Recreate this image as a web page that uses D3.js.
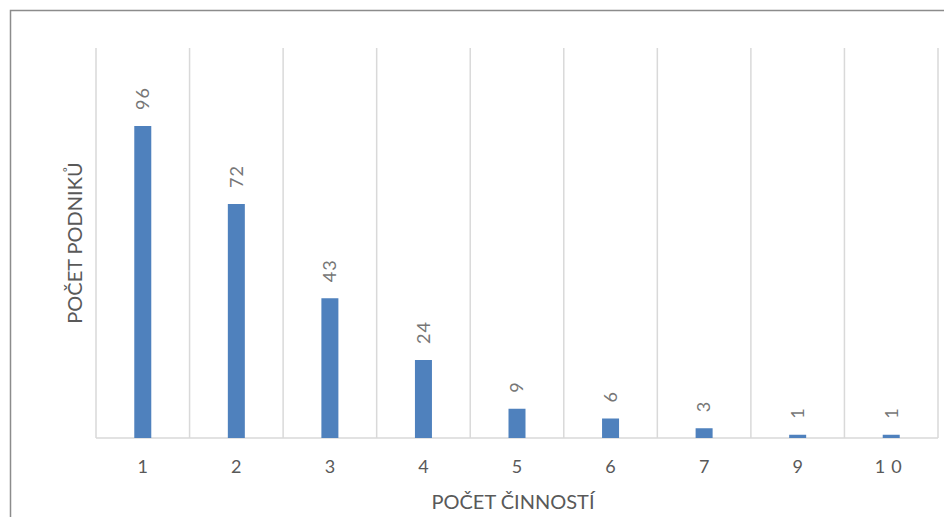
<!DOCTYPE html>
<html>
<head>
<meta charset="utf-8">
<script src="https://cdn.jsdelivr.net/npm/d3@7"></script>
<style>
  body { margin: 0; background: #fff; }
  svg text { font-family: Lato, "Open Sans", sans-serif; fill: #595959; }
</style>
</head>
<body>
<div id="chart"></div>
<script>
const categories = ["1", "2", "3", "4", "5", "6", "7", "9", "10"];
const values = [96, 72, 43, 24, 9, 6, 3, 1, 1];
const xTitle = "POČET ČINNOSTÍ";
const yTitle = "POČET PODNIKŮ";

const W = 944, H = 517;
const margin = { top: 48, right: 6, bottom: 79, left: 96 };
const width = W - margin.left - margin.right;
const height = H - margin.top - margin.bottom;

const svg = d3.select("#chart").append("svg")
    .attr("width", W)
    .attr("height", H);

// chart frame
svg.append("rect")
    .attr("x", 10.5).attr("y", 10.5)
    .attr("width", W + 20).attr("height", H + 20)
    .attr("fill", "none")
    .attr("stroke", "#8c8c8c")
    .attr("stroke-width", 1.5);

const g = svg.append("g")
    .attr("transform", `translate(${margin.left},${margin.top})`);

const x = d3.scaleBand().domain(categories).range([0, width]);
const y = d3.scaleLinear().domain([0, 120]).range([height, 0]);

// vertical gridlines at category boundaries
const bounds = categories.map(c => x(c)).concat([width]);
g.selectAll(".grid")
    .data(bounds)
    .enter().append("line")
    .attr("class", "grid")
    .attr("x1", d => d).attr("x2", d => d)
    .attr("y1", 0).attr("y2", height)
    .attr("stroke", "#d9d9d9")
    .attr("stroke-width", 1.5);

// baseline
g.append("line")
    .attr("x1", 0).attr("x2", width)
    .attr("y1", height).attr("y2", height)
    .attr("stroke", "#d9d9d9")
    .attr("stroke-width", 1.5);

const barW = 17;
g.selectAll(".bar")
    .data(values)
    .enter().append("rect")
    .attr("class", "bar")
    .attr("x", (d, i) => x(categories[i]) + x.bandwidth() / 2 - barW / 2)
    .attr("y", d => y(d))
    .attr("width", barW)
    .attr("height", d => height - y(d))
    .attr("fill", "#4f81bd");

// data labels (rotated)
g.selectAll(".lbl")
    .data(values)
    .enter().append("text")
    .attr("class", "lbl")
    .attr("transform", (d, i) => `translate(${x(categories[i]) + x.bandwidth() / 2},${y(d) - 16}) rotate(-90)`)
    .attr("dy", "0.35em")
    .style("font-size", "18px")
    .style("letter-spacing", "1px")
    .style("fill", "#767676")
    .text(d => d);

// category tick labels
g.selectAll(".tick-lbl")
    .data(categories)
    .enter().append("text")
    .attr("class", "tick-lbl")
    .attr("x", d => x(d) + x.bandwidth() / 2)
    .attr("y", height + 29)
    .attr("dy", "0.35em")
    .attr("text-anchor", "middle")
    .style("font-size", "18px")
    .style("letter-spacing", d => d.length > 1 ? "6px" : "0px")
    .text(d => d);

// axis titles
svg.append("text")
    .attr("x", margin.left + width / 2 - 4)
    .attr("y", 502)
    .attr("dy", "0.35em")
    .attr("text-anchor", "middle")
    .style("font-size", "20px")
    .text(xTitle);

svg.append("text")
    .attr("transform", `translate(75,${margin.top + height / 2}) rotate(-90)`)
    .attr("dy", "0.35em")
    .attr("text-anchor", "middle")
    .style("font-size", "20px")
    .text(yTitle);
</script>
</body>
</html>
